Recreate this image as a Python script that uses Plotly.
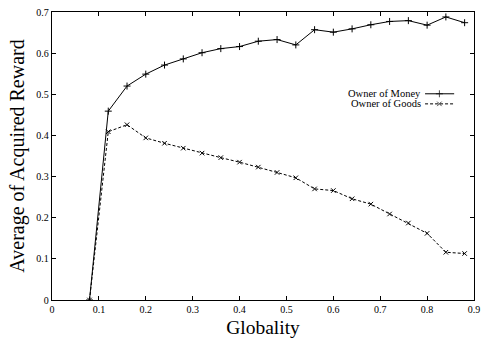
import plotly.graph_objects as go

globality = [0.08, 0.12, 0.16, 0.20, 0.24, 0.28, 0.32, 0.36, 0.40, 0.44, 0.48,
             0.52, 0.56, 0.60, 0.64, 0.68, 0.72, 0.76, 0.80, 0.84, 0.88]
owner_money = [0.0, 0.459, 0.520, 0.549, 0.571, 0.586, 0.601, 0.611, 0.616, 0.629, 0.633,
               0.620, 0.657, 0.651, 0.659, 0.669, 0.677, 0.679, 0.668, 0.688, 0.674]
owner_goods = [0.0, 0.409, 0.426, 0.394, 0.381, 0.369, 0.357, 0.346, 0.335, 0.323, 0.310,
               0.297, 0.270, 0.266, 0.246, 0.233, 0.209, 0.187, 0.162, 0.116, 0.113]
x_ticks = [0, 0.1, 0.2, 0.3, 0.4, 0.5, 0.6, 0.7, 0.8, 0.9]
y_ticks = [0, 0.1, 0.2, 0.3, 0.4, 0.5, 0.6, 0.7]
series_names = ["Owner of Money", "Owner of Goods"]

FONT = "Liberation Serif, Times New Roman, serif"

fig = go.Figure()
fig.add_trace(go.Scatter(
    x=globality, y=owner_money, mode="lines+markers", name=series_names[0],
    line=dict(color="black", width=1),
    marker=dict(symbol="cross-thin", size=5, line=dict(color="black", width=1)),
    showlegend=False))
fig.add_trace(go.Scatter(
    x=globality, y=owner_goods, mode="lines+markers", name=series_names[1],
    line=dict(color="black", width=1, dash="3px,2px"),
    marker=dict(symbol="x-thin", size=4.5, line=dict(color="black", width=1)),
    showlegend=False))

# custom gnuplot-style legend (text left, sample right)
legend_rows = [0.716, 0.681]
styles = [
    (dict(color="black", width=1), "cross-thin", 5),
    (dict(color="black", width=1, dash="3px,2px"), "x-thin", 4.5),
]
for name, yy, (ln, sym, sz) in zip(series_names, legend_rows, styles):
    fig.add_trace(go.Scatter(
        x=[0.884, 0.918, 0.953], y=[yy, yy, yy], xaxis="x2", yaxis="y2",
        mode="lines+markers", line=ln,
        marker=dict(symbol=sym, size=[0, sz, 0], line=dict(color="black", width=1)),
        showlegend=False, hoverinfo="skip"))
    fig.add_annotation(x=0.878, y=yy, xref="x2", yref="y2", text=name,
                       showarrow=False, xanchor="right", yanchor="middle",
                       font=dict(family=FONT, size=10.5, color="black"))

axis_common = dict(ticks="inside", ticklen=4, tickwidth=1, tickcolor="black",
                   showline=True, linecolor="black", linewidth=1.3, mirror="ticks",
                   showgrid=False, zeroline=False, automargin=False,
                   tickfont=dict(family=FONT, size=10, color="black"))

fig.update_layout(
    width=481, height=340,
    margin=dict(l=52, r=7, t=12, b=40),
    paper_bgcolor="white", plot_bgcolor="white",
    font=dict(family=FONT, color="black"),
    xaxis=dict(range=[0, 0.9], tickvals=x_ticks, ticktext=[f"{v:g}" for v in x_ticks],
               title=dict(text="Globality", font=dict(family=FONT, size=19.5), standoff=6),
               **axis_common),
    yaxis=dict(range=[0, 0.7], tickvals=y_ticks, ticktext=[f"{v:g}" for v in y_ticks],
               title=dict(text="Average of Acquired Reward", font=dict(family=FONT, size=20), standoff=6),
               **axis_common),
    xaxis2=dict(domain=[0, 1], range=[0, 1], overlaying="x", visible=False),
    yaxis2=dict(domain=[0, 1], range=[0, 1], overlaying="y", visible=False),
)

fig.write_html("out.html", config={"displayModeBar": False},
               post_script="document.body.style.margin='0';document.body.style.overflow='hidden';")
